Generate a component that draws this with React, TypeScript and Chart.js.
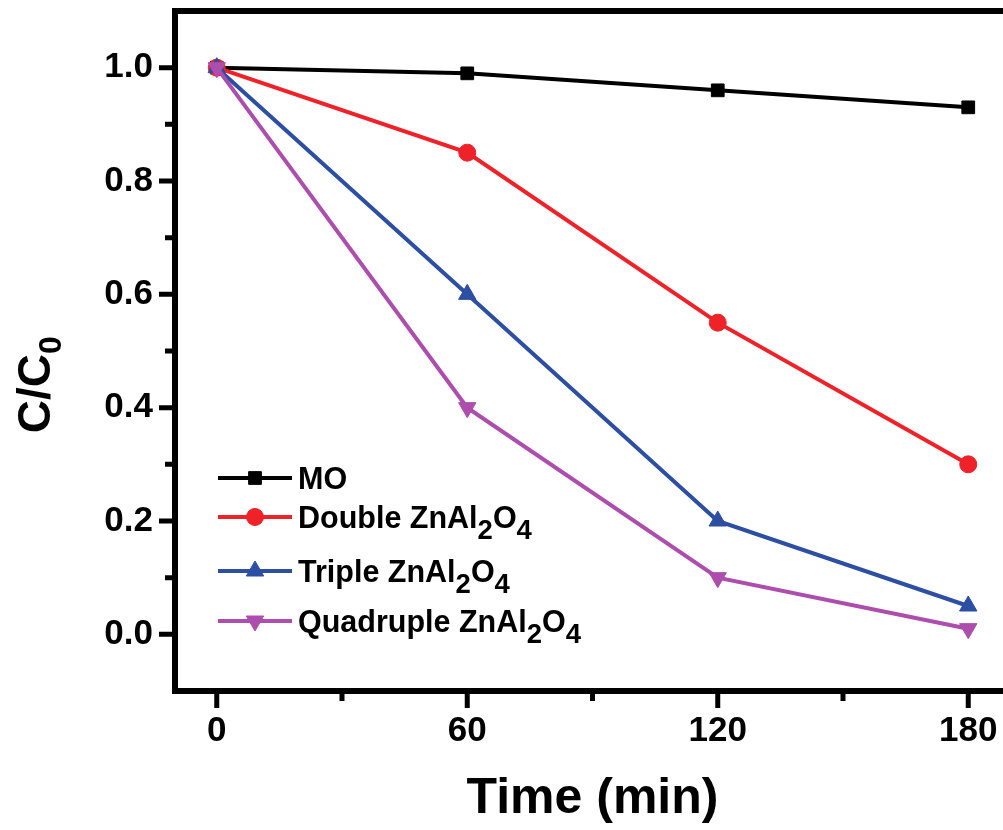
import React, { useEffect, useRef } from 'react';
import { Chart, registerables } from 'chart.js';

Chart.register(...registerables);

// ---- data ----
const TIME_MIN = [0, 60, 120, 180];
const MO = [1.0, 0.99, 0.96, 0.93];
const DOUBLE = [1.0, 0.85, 0.55, 0.3];
const TRIPLE = [1.0, 0.6, 0.2, 0.05];
const QUADRUPLE = [1.0, 0.4, 0.1, 0.01];
const SERIES_LABELS = ['MO', 'Double ZnAl_2O_4', 'Triple ZnAl_2O_4', 'Quadruple ZnAl_2O_4'];
const X_TICKS = [0, 60, 120, 180];
const X_MINOR = [30, 90, 150];
const Y_TICKS = [0, 0.2, 0.4, 0.6, 0.8, 1.0];
const Y_MINOR = [0.1, 0.3, 0.5, 0.7, 0.9];
const X_TITLE = 'Time (min)';
const Y_TITLE = 'C/C_0';

const FONT = '"Liberation Sans", Arial, Helvetica, sans-serif';
const COLORS = ['#000000', '#ee2228', '#2c4ea3', '#ad4dad'];
const STYLES = [
  { pointStyle: 'rect', radius: 9, rotation: 0 },
  { pointStyle: 'circle', radius: 8.5, rotation: 0 },
  { pointStyle: 'triangle', radius: 10, rotation: 0 },
  { pointStyle: 'triangle', radius: 10, rotation: 180 },
];

function parseRich(s: string) {
  const parts: { t: string; sub: boolean }[] = [];
  const re = /_(\d)|([^_]+)/g;
  let m: RegExpExecArray | null;
  while ((m = re.exec(s))) {
    if (m[1]) parts.push({ t: m[1], sub: true });
    else parts.push({ t: m[2], sub: false });
  }
  return parts;
}

function drawRich(
  ctx: CanvasRenderingContext2D,
  s: string,
  size: number,
  subSize: number,
  subShift: number,
) {
  let cx = 0;
  for (const p of parseRich(s)) {
    ctx.font = `bold ${p.sub ? subSize : size}px ${FONT}`;
    ctx.fillText(p.t, cx, p.sub ? subShift : 0);
    cx += ctx.measureText(p.t).width;
  }
  return cx;
}

function drawMarker(ctx: CanvasRenderingContext2D, style: any, color: string, x: number, y: number) {
  ctx.save();
  ctx.fillStyle = color;
  ctx.strokeStyle = color;
  ctx.lineWidth = 1;
  ctx.beginPath();
  const r = style.radius;
  if (style.pointStyle === 'rect') {
    const s = Math.SQRT1_2 * r;
    ctx.rect(x - s, y - s, 2 * s, 2 * s);
  } else if (style.pointStyle === 'circle') {
    ctx.arc(x, y, r, 0, Math.PI * 2);
  } else {
    let rad = (style.rotation * Math.PI) / 180;
    ctx.moveTo(x + Math.sin(rad) * r, y - Math.cos(rad) * r);
    rad += (2 * Math.PI) / 3;
    ctx.lineTo(x + Math.sin(rad) * r, y - Math.cos(rad) * r);
    rad += (2 * Math.PI) / 3;
    ctx.lineTo(x + Math.sin(rad) * r, y - Math.cos(rad) * r);
    ctx.closePath();
  }
  ctx.fill();
  ctx.stroke();
  ctx.restore();
}

const framePlugin = {
  id: 'frameAxes',
  afterDatasetsDraw(chart: any) {
    const { ctx, chartArea: a, scales } = chart;
    const xs = scales.x;
    const ys = scales.y;
    ctx.save();
    ctx.strokeStyle = '#000';
    ctx.lineCap = 'square';
    ctx.lineWidth = 6;
    ctx.strokeRect(a.left, a.top, a.right - a.left, a.bottom - a.top);
    ctx.lineCap = 'butt';
    ctx.lineWidth = 5;
    ctx.beginPath();
    for (const v of X_TICKS) {
      const px = xs.getPixelForValue(v);
      ctx.moveTo(px, a.bottom);
      ctx.lineTo(px, a.bottom + 17);
    }
    for (const v of X_MINOR) {
      const px = xs.getPixelForValue(v);
      ctx.moveTo(px, a.bottom);
      ctx.lineTo(px, a.bottom + 10);
    }
    for (const v of Y_TICKS) {
      const py = ys.getPixelForValue(v);
      ctx.moveTo(a.left, py);
      ctx.lineTo(a.left - 16, py);
    }
    for (const v of Y_MINOR) {
      const py = ys.getPixelForValue(v);
      ctx.moveTo(a.left, py);
      ctx.lineTo(a.left - 10, py);
    }
    ctx.stroke();

    // axis titles
    ctx.fillStyle = '#000';
    ctx.textBaseline = 'alphabetic';
    ctx.textAlign = 'left';
    ctx.font = `bold 50px ${FONT}`;
    const tw = ctx.measureText(X_TITLE).width;
    const cx = (a.left + a.right) / 2;
    ctx.fillText(X_TITLE, cx - tw / 2, 813);

    ctx.save();
    ctx.translate(50, ys.getPixelForValue(0.355));
    ctx.rotate(-Math.PI / 2);
    drawRich(ctx, Y_TITLE, 46, 32, 11);
    ctx.restore();

    // legend
    const rows = [478, 517, 571, 621];
    chart.data.datasets.forEach((ds: any, i: number) => {
      const y = rows[i];
      ctx.strokeStyle = COLORS[i];
      ctx.lineWidth = 4;
      ctx.beginPath();
      ctx.moveTo(218, y);
      ctx.lineTo(292, y);
      ctx.stroke();
      drawMarker(ctx, STYLES[i], COLORS[i], 255, y);
      ctx.save();
      ctx.fillStyle = '#000';
      ctx.translate(298, y + 11);
      drawRich(ctx, SERIES_LABELS[i], 30.5, 27.5, 11);
      ctx.restore();
    });
    ctx.restore();
  },
};

export default function App() {
  const ref = useRef<HTMLCanvasElement | null>(null);

  useEffect(() => {
    if (!ref.current) return;
    const series = [MO, DOUBLE, TRIPLE, QUADRUPLE];
    const datasets = series.map((vals, i) => ({
      label: SERIES_LABELS[i].replace(/_/g, ''),
      data: vals.map((v, j) => ({ x: TIME_MIN[j], y: v })),
      borderColor: COLORS[i],
      backgroundColor: COLORS[i],
      borderWidth: 4,
      pointStyle: STYLES[i].pointStyle as any,
      pointRotation: STYLES[i].rotation,
      pointRadius: STYLES[i].radius,
      pointBorderWidth: 1,
      pointBackgroundColor: COLORS[i],
      pointBorderColor: COLORS[i],
      tension: 0,
      order: 3 - i,
    }));
    const tickFont = { family: FONT, size: 35, weight: 'bold' as const };
    const chart = new Chart(ref.current, {
      type: 'line',
      data: { datasets },
      options: {
        animation: false,
        responsive: false,
        maintainAspectRatio: false,
        layout: { padding: { top: 11, right: 30, left: 0, bottom: 0 } },
        plugins: { legend: { display: false }, tooltip: { enabled: false } },
        scales: {
          x: {
            type: 'linear',
            min: -10,
            max: 190,
            grid: { display: false, drawTicks: true, tickLength: 17 },
            border: { display: false },
            afterBuildTicks: (s: any) => {
              s.ticks = X_TICKS.map((v) => ({ value: v }));
            },
            afterFit: (s: any) => {
              s.height = 139;
              s.paddingLeft = 0;
              s.paddingRight = 0;
            },
            ticks: {
              font: tickFont,
              color: '#000',
              padding: 2,
              maxRotation: 0,
              autoSkip: false,
              callback: (v: any) => String(v),
            },
          },
          y: {
            type: 'linear',
            min: -0.1,
            max: 1.1,
            grid: { display: false, drawTicks: true, tickLength: 16 },
            border: { display: false },
            afterBuildTicks: (s: any) => {
              s.ticks = Y_TICKS.map((v) => ({ value: v }));
            },
            afterFit: (s: any) => {
              s.width = 175;
              s.paddingTop = 0;
              s.paddingBottom = 0;
            },
            ticks: {
              font: tickFont,
              color: '#000',
              padding: 6,
              autoSkip: false,
              callback: (v: any) => Number(v).toFixed(1),
            },
          },
        },
      },
      plugins: [framePlugin],
    });
    return () => chart.destroy();
  }, []);

  return (
    <div
      style={{
        position: 'fixed',
        left: 0,
        top: 0,
        width: 1003,
        height: 830,
        overflow: 'hidden',
        background: '#fff',
      }}
    >
      <canvas ref={ref} width={1040} height={830} style={{ display: 'block' }} />
    </div>
  );
}
